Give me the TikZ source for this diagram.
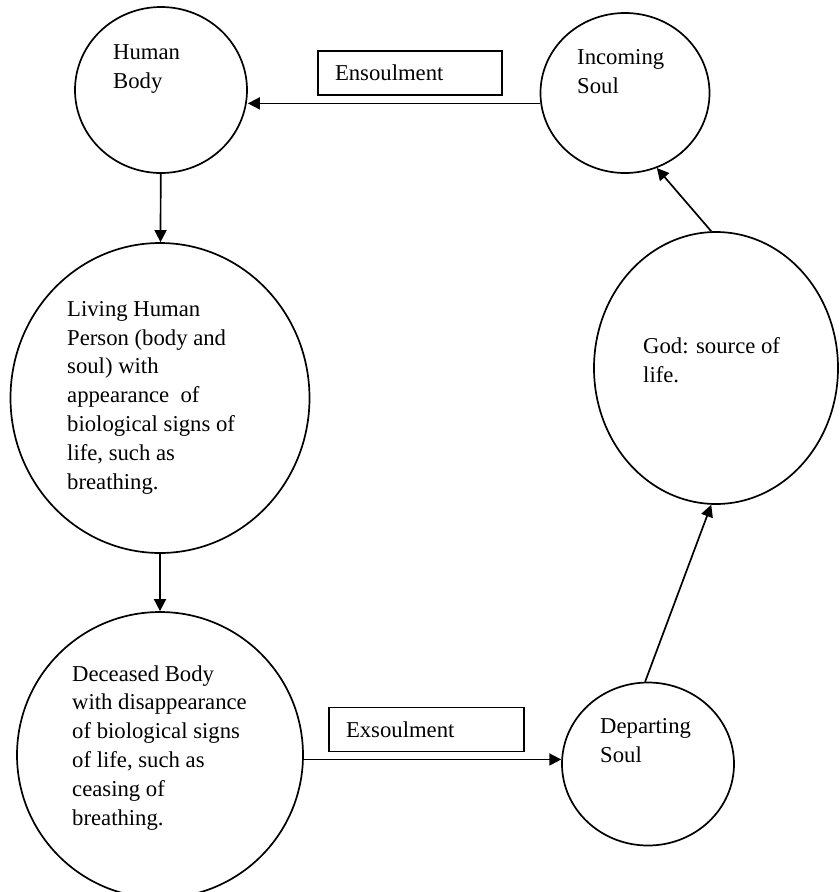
\documentclass[tikz,border=0pt]{standalone}
\usepackage{fontspec}
\setmainfont{Liberation Serif}
\usetikzlibrary{arrows.meta,shapes.geometric}
\tikzset{
  bubble/.style={draw, ellipse, line width=1.7pt, inner sep=0pt},
  tagbox/.style={draw, rectangle, line width=1.6pt, minimum height=44pt,
                 inner xsep=17pt, inner ysep=0pt, align=left},
  said/.style={anchor=base west, align=left, inner sep=0pt},
  flow/.style={line width=1.7pt, -{Triangle[length=12pt, width=12pt]}},
}
\begin{document}
\begin{tikzpicture}[x=1pt, y=-1pt, font=\fontsize{22.7}{28.8}\selectfont]
  \useasboundingbox (0,0) rectangle (839,892);

  %% --- the stages as circles ---
  \node[bubble, minimum width=172pt, minimum height=166pt] (body) at (161,90) {};
  \node[bubble, minimum width=169pt, minimum height=160pt] (soulin) at (625,93) {};
  \node[bubble, minimum width=299pt, minimum height=310pt] (living) at (160,398) {};
  \node[bubble, minimum width=286pt, minimum height=286pt] (dead) at (160,755) {};
  \node[bubble, minimum width=172pt, minimum height=163pt] (departing) at (648,764) {};
  \node[bubble, minimum width=244pt, minimum height=272pt] (god) at (716,368) {};

  %% texts in the circles (placed by the baseline of their last line)
  \node[said] (bodytext) at (113,88) {Human\\Body};
  \node[said] (soulintext) at (577,93) {Incoming\\Soul};
  \node[said] (livingtext) at (67,489)
    {Living Human\\Person (body and\\soul) with\\appearance\ \ of\\
     biological signs of\\life, such as\\breathing.};
  \node[said] (deadtext) at (72,825)
    {Deceased Body\\with disappearance\\of biological signs\\of life, such as\\
     ceasing of\\breathing.};
  \node[said] (departtext) at (600,762) {Departing\\Soul};
  \node[said] (godtext) at (643,382) {God: source of\\life.};

  %% --- labels in boxes ---
  \node[tagbox, text width=150pt] (ensoul) at (410,73) {Ensoulment};
  \node[tagbox, text width=161pt] (exsoul) at (426.5,729.5) {Exsoulment};

  %% --- the cycle ---
  \draw[flow] (soulin.187) -- (body.east |- soulin.187);
  \draw[flow] (body) -- (living);
  \draw[flow] (living) -- (dead);
  \draw[flow] (dead.east |- departing.177) -- (departing.177);
  \draw[flow] (departing.92) -- (god.-92);
  \draw[flow] (god.92) -- (soulin.-67);
\end{tikzpicture}
\end{document}
